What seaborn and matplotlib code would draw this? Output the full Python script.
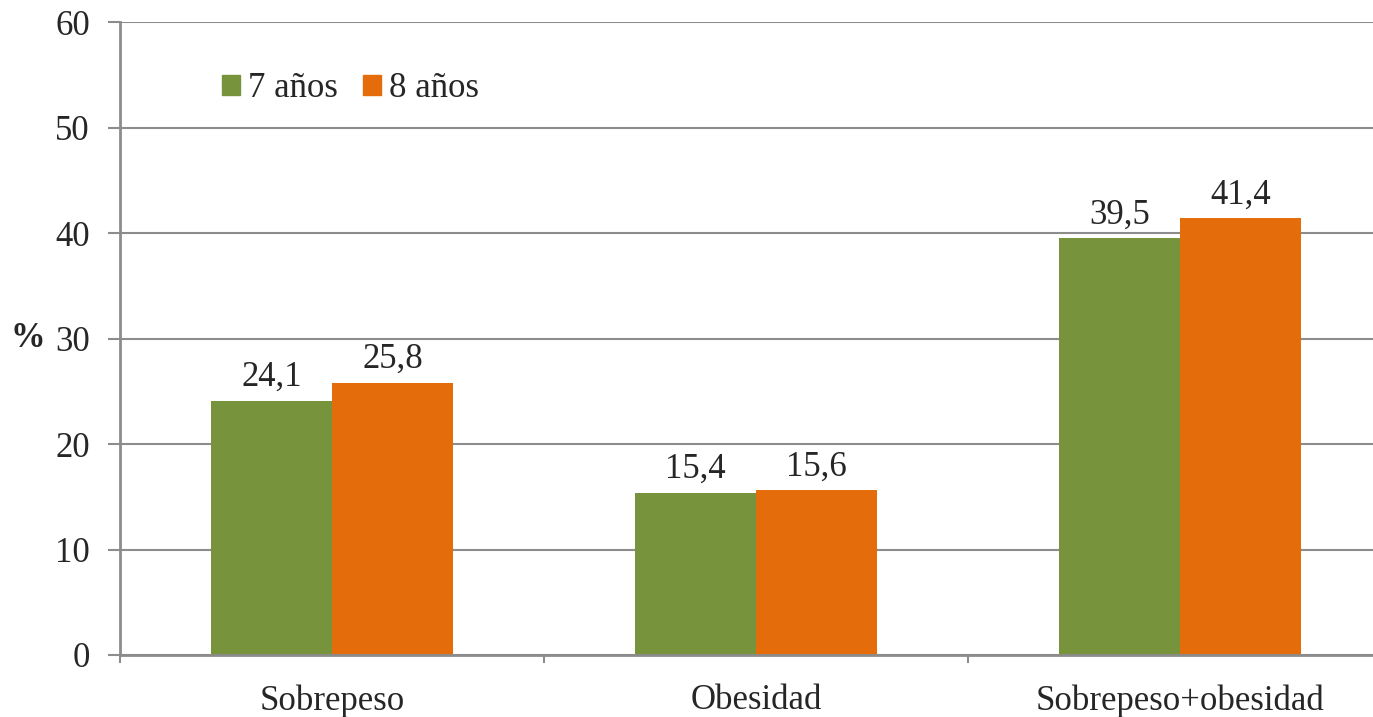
import numpy as np
import pandas as pd
import matplotlib
matplotlib.use("Agg")
import matplotlib.pyplot as plt
import matplotlib.patches as mpatches
from matplotlib.ticker import FixedLocator
import seaborn as sns

CATEGORIES = ["Sobrepeso", "Obesidad", "Sobrepeso+obesidad"]
SERIES = ["7 años", "8 años"]
VALS_7 = [24.1, 15.4, 39.5]
VALS_8 = [25.8, 15.6, 41.4]
Y_TICKS = [0, 10, 20, 30, 40, 50, 60]

CLR_7 = "#77933C"
CLR_8 = "#E46C0A"
CLR_AX = "#8c8c8c"
FS = 25

sns.set_style("white")
plt.rcParams["font.family"] = ["Liberation Serif", "DejaVu Serif"]

df = pd.DataFrame({
    "cat": CATEGORIES * 2,
    "serie": [SERIES[0]] * 3 + [SERIES[1]] * 3,
    "val": VALS_7 + VALS_8,
})

fig = plt.figure(figsize=(13.73, 7.17), dpi=100)
# the right end of the plot area runs past the figure edge, as in the original
ax = fig.add_axes([0.0874, 0.0865, 0.9264, 0.8825])

sns.barplot(data=df, x="cat", y="val", hue="serie", order=CATEGORIES,
            hue_order=SERIES, palette=[CLR_7, CLR_8], width=0.57,
            saturation=1, errorbar=None, ax=ax, legend=False, linewidth=0)

for cont in ax.containers:
    labels = [f"{b.get_height():.1f}".replace(".", ",") for b in cont]
    ax.bar_label(cont, labels=labels, padding=5, fontsize=FS)

ax.set_ylim(0, 60)
ax.set_xlim(-0.5, 2.5)
ax.set_yticks(Y_TICKS)
ax.set_yticklabels([str(t) for t in Y_TICKS], fontsize=FS)
ax.set_xticks(range(len(CATEGORIES)))
ax.set_xticklabels(CATEGORIES, fontsize=FS)
ax.tick_params(axis="x", which="major", length=0, pad=21)
ax.xaxis.set_minor_locator(FixedLocator([-0.5, 0.5, 1.5, 2.5]))
ax.tick_params(axis="x", which="minor", bottom=True, length=6, width=1.5,
               color=CLR_AX, direction="out")
ax.tick_params(axis="y", left=True, length=8.6, width=1.5, color=CLR_AX,
               direction="out", pad=13)
ax.yaxis.grid(True, color=CLR_AX, linewidth=1.5)
ax.set_axisbelow(True)
for s in ["top", "right"]:
    ax.spines[s].set_visible(False)
for s in ["left", "bottom"]:
    ax.spines[s].set_color(CLR_AX)
    ax.spines[s].set_linewidth(2)
ax.set_xlabel("")
ax.set_ylabel("%", fontsize=FS, fontweight="bold", rotation=0, labelpad=20, va="center")

handles = [mpatches.Patch(color=CLR_7, label=SERIES[0]),
           mpatches.Patch(color=CLR_8, label=SERIES[1])]
ax.legend(handles=handles, loc="center left", bbox_to_anchor=(0.080, 0.895), ncol=2,
          frameon=False, fontsize=FS, handlelength=0.52, handleheight=0.52,
          handletextpad=0.23, columnspacing=0.72, borderpad=0, borderaxespad=0)

fig.savefig("out.png", dpi=100, facecolor="white")
